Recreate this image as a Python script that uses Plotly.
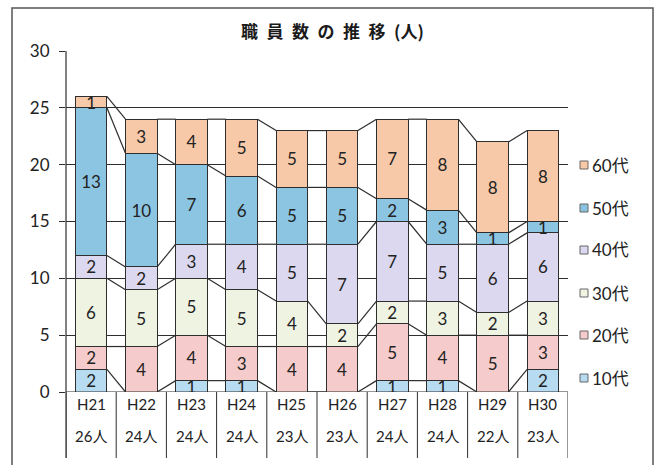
import plotly.graph_objects as go

# 年度別・年代別の職員数
years = ["H21", "H22", "H23", "H24", "H25", "H26", "H27", "H28", "H29", "H30"]
totals = ["26人", "24人", "24人", "24人", "23人", "23人", "24人", "24人", "22人", "23人"]
age_groups = ["10代", "20代", "30代", "40代", "50代", "60代"]
teens = [2, 0, 1, 1, 0, 0, 1, 1, 0, 2]
twenties = [2, 4, 4, 3, 4, 4, 5, 4, 5, 3]
thirties = [6, 5, 5, 5, 4, 2, 2, 3, 2, 3]
forties = [2, 2, 3, 4, 5, 7, 7, 5, 6, 6]
fifties = [13, 10, 7, 6, 5, 5, 2, 3, 1, 1]
sixties = [1, 3, 4, 5, 5, 5, 7, 8, 8, 8]

series = [teens, twenties, thirties, forties, fifties, sixties]
colors = ["#b7dcf2", "#f5cccb", "#eff3e2", "#dcd8ef", "#8cc5e2", "#f8c9a9"]

FONT = "Lato, Noto Sans CJK JP, sans-serif"
INK = "#222222"
LINE = "#2e2e2e"
BAR_W = 0.63

# plot area in pixels, used to place the hand-drawn legend and frame
L, R, T, B, W, H = 66, 88, 51, 73, 656, 465
PW, PH = W - L - R, H - T - B


def px_x(px):
    return (px - L) / PW


def px_y(py):
    return (H - B - py) / PH


xs = list(range(len(years)))
fig = go.Figure()

for name, vals, col in zip(age_groups, series, colors):
    fig.add_trace(go.Bar(
        x=xs, y=vals, name=name, width=BAR_W,
        marker=dict(color=col, line=dict(color=LINE, width=1)),
        text=[str(v) if v else "" for v in vals],
        textposition="inside", insidetextanchor="middle", textangle=0,
        textfont=dict(size=17, color=INK, family=FONT),
        showlegend=False, hoverinfo="skip",
    ))

# series lines joining the top of each stacked segment between neighbouring bars
cum = [0] * len(years)
for vals in series:
    cum = [c + v for c, v in zip(cum, vals)]
    lx, ly = [], []
    for i in range(len(years) - 1):
        lx += [i + BAR_W / 2, i + 1 - BAR_W / 2, None]
        ly += [cum[i], cum[i + 1], None]
    fig.add_trace(go.Scatter(x=lx, y=ly, mode="lines", showlegend=False,
                             line=dict(color=LINE, width=1.2), hoverinfo="skip"))

# category table below the plot: year and headcount
for i, (yr, tot) in enumerate(zip(years, totals)):
    fig.add_annotation(x=i, y=0, xref="x", yref="paper", yshift=-23, text=yr,
                       showarrow=False, font=dict(size=15, color=INK, family=FONT))
    fig.add_annotation(x=i, y=0, xref="x", yref="paper", yshift=-55, text=tot,
                       showarrow=False, font=dict(size=15, color=INK, family=FONT))
for i in range(len(years) + 1):
    fig.add_shape(type="line", xref="x", yref="paper", x0=i - 0.5, x1=i - 0.5,
                  y0=0, y1=px_y(458), line=dict(color=LINE, width=1))

# legend, newest age group on top
legend_rows = [165, 208, 250, 293, 335, 378]
for name, col, cy in zip(reversed(age_groups), reversed(colors), legend_rows):
    fig.add_shape(type="rect", xref="paper", yref="paper",
                  x0=px_x(580), x1=px_x(588), y0=px_y(cy + 4), y1=px_y(cy - 4),
                  fillcolor=col, line=dict(color="#666666", width=1))
    fig.add_annotation(x=px_x(590), y=px_y(cy), xref="paper", yref="paper",
                       xanchor="left", yanchor="middle", text=name, showarrow=False,
                       font=dict(size=17, color=INK, family=FONT))

# outer frame of the chart
fig.add_shape(type="rect", xref="paper", yref="paper", x0=px_x(12), x1=px_x(653),
              y0=px_y(480), y1=px_y(8), line=dict(color="#555555", width=1.5))

fig.add_annotation(x=px_x(332), y=px_y(30), xref="paper", yref="paper",
                   xanchor="center", yanchor="middle",
                   text="<b>職\u2002員\u2002数\u2002の\u2002推\u2002移\u2002(人)</b>", showarrow=False,
                   font=dict(size=17, color="#1a1a1a", family="Noto Sans CJK JP"))

fig.update_layout(
    width=W, height=H,
    margin=dict(l=L, r=R, t=T, b=B),
    paper_bgcolor="white", plot_bgcolor="white",
    barmode="stack", bargap=0.37,
    showlegend=False,
    uniformtext=dict(minsize=17, mode="show"),
    font=dict(family=FONT, color=INK),
)
fig.update_xaxes(range=[-0.5, len(years) - 0.5], showticklabels=False, showgrid=False,
                 zeroline=False, showline=False, ticks="")
fig.update_yaxes(range=[0, 30], dtick=5, showgrid=True, gridcolor=LINE, gridwidth=1,
                 zeroline=False, showline=False, ticks="outside", ticklen=6,
                 tickcolor=LINE, ticklabelstandoff=6,
                 tickfont=dict(size=17, color=INK, family=FONT))
# left axis line running down through the category table, and the base line
fig.add_shape(type="line", xref="paper", yref="paper", x0=0, x1=0, y0=px_y(458), y1=1,
              line=dict(color=LINE, width=1.2))
fig.add_shape(type="line", xref="paper", yref="y", x0=0, x1=1, y0=0, y1=0,
              line=dict(color=LINE, width=1.2))

fig.write_html("out.html")
